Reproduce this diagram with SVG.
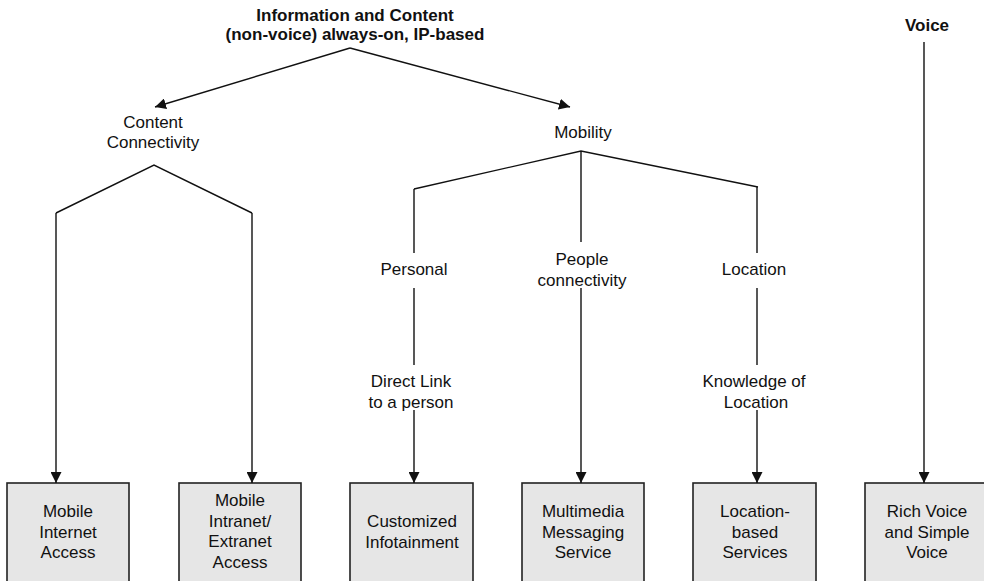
<svg xmlns="http://www.w3.org/2000/svg" width="984" height="581" viewBox="0 0 984 581">
  <style>
    text { font-family: "Liberation Sans", Arial, sans-serif; font-size: 17px; fill: #111; text-anchor: middle; }
    .title { font-weight: bold; }
    .box { fill: #e6e6e6; stroke: #222; stroke-width: 1.6; }
    .wire { fill: none; stroke: #111; stroke-width: 1.4; }
  </style>
  <defs>
    <marker id="arrow" viewBox="0 0 10 10" refX="10" refY="5" markerWidth="11" markerHeight="11" markerUnits="userSpaceOnUse" orient="auto">
      <path d="M0,0 L10,5 L0,10 z" fill="#111"/>
    </marker>
  </defs>

  <!-- headings -->
  <g id="info-content">
    <text class="title" x="355" y="21">Information and Content</text>
    <text class="title" x="355" y="40">(non-voice) always-on, IP-based</text>
  </g>
  <g id="voice">
    <text class="title" x="927" y="31">Voice</text>
  </g>
  <g id="content-connectivity">
    <text x="153" y="128">Content</text>
    <text x="153" y="148">Connectivity</text>
  </g>
  <g id="mobility">
    <text x="583" y="138">Mobility</text>
  </g>
  <g id="personal">
    <text x="414" y="275">Personal</text>
  </g>
  <g id="people-connectivity">
    <text x="582" y="265">People</text>
    <text x="582" y="286">connectivity</text>
  </g>
  <g id="location">
    <text x="754" y="275">Location</text>
  </g>
  <g id="direct-link">
    <text x="411" y="387">Direct Link</text>
    <text x="411" y="408">to a person</text>
  </g>
  <g id="knowledge-of-location">
    <text x="754" y="387">Knowledge of</text>
    <text x="756" y="408">Location</text>
  </g>

  <!-- service boxes -->
  <g id="mobile-internet">
    <rect class="box" x="7" y="483" width="122" height="110"/>
    <text x="68" y="517">Mobile</text>
    <text x="68" y="538">Internet</text>
    <text x="68" y="558">Access</text>
  </g>
  <g id="mobile-intranet">
    <rect class="box" x="179" y="483" width="122" height="110"/>
    <text x="240" y="506">Mobile</text>
    <text x="240" y="527">Intranet/</text>
    <text x="240" y="547">Extranet</text>
    <text x="240" y="568">Access</text>
  </g>
  <g id="customized-infotainment">
    <rect class="box" x="350" y="483" width="123" height="110"/>
    <text x="412" y="527">Customized</text>
    <text x="412" y="548">Infotainment</text>
  </g>
  <g id="multimedia-messaging">
    <rect class="box" x="522" y="483" width="122" height="110"/>
    <text x="583" y="517">Multimedia</text>
    <text x="583" y="538">Messaging</text>
    <text x="583" y="558">Service</text>
  </g>
  <g id="location-based">
    <rect class="box" x="693" y="483" width="123" height="110"/>
    <text x="755" y="517">Location-</text>
    <text x="755" y="538">based</text>
    <text x="755" y="558">Services</text>
  </g>
  <g id="rich-voice">
    <rect class="box" x="865" y="483" width="124" height="110"/>
    <text x="927" y="517">Rich Voice</text>
    <text x="927" y="538">and Simple</text>
    <text x="927" y="558">Voice</text>
  </g>

  <!-- connectors -->
  <g id="connectors">
    <path class="wire" d="M350,48 L155,107" marker-end="url(#arrow)"/>
    <path class="wire" d="M350,48 L570,107" marker-end="url(#arrow)"/>

    <path class="wire" d="M56,213 L154,165 L252,213"/>
    <path class="wire" d="M56,213 V483" marker-end="url(#arrow)"/>
    <path class="wire" d="M252,213 V483" marker-end="url(#arrow)"/>

    <path class="wire" d="M414,189 L581,151 L758,187"/>
    <path class="wire" d="M414,189 V253"/>
    <path class="wire" d="M414,288 V365"/>
    <path class="wire" d="M414,410 V483" marker-end="url(#arrow)"/>

    <path class="wire" d="M581,151 V242"/>
    <path class="wire" d="M581,288 V483" marker-end="url(#arrow)"/>

    <path class="wire" d="M757,187 V253"/>
    <path class="wire" d="M757,288 V365"/>
    <path class="wire" d="M757,410 V483" marker-end="url(#arrow)"/>

    <path class="wire" d="M924,42 V483" marker-end="url(#arrow)"/>
  </g>
</svg>
